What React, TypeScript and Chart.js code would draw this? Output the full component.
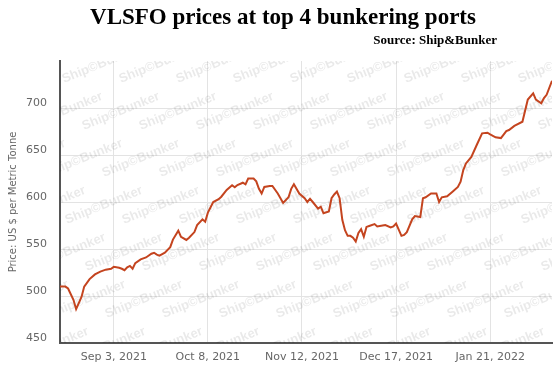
import React, { useEffect, useRef } from 'react';
import { Chart, registerables } from 'chart.js';

Chart.register(...registerables);

const TITLE = 'VLSFO prices at top 4 bunkering ports';
const SOURCE = 'Source: Ship&Bunker';
const Y_TITLE = 'Price: US $ per Metric Tonne';
const WATERMARK = 'Ship\u00A9Bunker';

const dates = [
  '2021-08-14', '2021-08-16', '2021-08-17', '2021-08-19', '2021-08-20', '2021-08-22', '2021-08-23',
  '2021-08-25', '2021-08-27', '2021-08-29', '2021-08-31', '2021-09-02', '2021-09-03', '2021-09-05',
  '2021-09-06', '2021-09-07', '2021-09-08', '2021-09-09', '2021-09-10', '2021-09-11', '2021-09-13',
  '2021-09-15', '2021-09-17', '2021-09-18', '2021-09-19', '2021-09-20', '2021-09-22', '2021-09-24',
  '2021-09-25', '2021-09-27', '2021-09-28', '2021-09-30', '2021-10-01', '2021-10-03', '2021-10-04',
  '2021-10-06', '2021-10-07', '2021-10-08', '2021-10-10', '2021-10-12', '2021-10-13', '2021-10-15',
  '2021-10-17', '2021-10-18', '2021-10-19', '2021-10-21', '2021-10-22', '2021-10-23', '2021-10-25',
  '2021-10-26', '2021-10-27', '2021-10-28', '2021-10-29', '2021-10-31', '2021-11-01', '2021-11-03',
  '2021-11-05', '2021-11-07', '2021-11-08', '2021-11-09', '2021-11-11', '2021-11-13', '2021-11-14',
  '2021-11-15', '2021-11-16', '2021-11-18', '2021-11-19', '2021-11-20', '2021-11-22', '2021-11-23',
  '2021-11-24', '2021-11-25', '2021-11-26', '2021-11-27', '2021-11-28', '2021-11-29', '2021-11-30',
  '2021-12-01', '2021-12-02', '2021-12-03', '2021-12-04', '2021-12-05', '2021-12-06', '2021-12-07',
  '2021-12-09', '2021-12-10', '2021-12-12', '2021-12-13', '2021-12-15', '2021-12-16', '2021-12-17',
  '2021-12-19', '2021-12-20', '2021-12-21', '2021-12-23', '2021-12-24', '2021-12-26', '2021-12-27',
  '2021-12-28', '2021-12-30', '2022-01-01', '2022-01-02', '2022-01-03', '2022-01-05', '2022-01-07',
  '2022-01-09', '2022-01-10', '2022-01-11', '2022-01-12', '2022-01-14', '2022-01-16', '2022-01-18',
  '2022-01-20', '2022-01-21', '2022-01-23', '2022-01-25', '2022-01-27', '2022-01-28', '2022-01-30',
  '2022-02-02', '2022-02-04', '2022-02-06', '2022-02-07', '2022-02-09', '2022-02-10', '2022-02-11',
  '2022-02-13',
];

const prices = [
  510, 510, 508, 496, 486, 499, 510,
  518, 523, 526, 528, 529, 531, 530,
  529, 527.5, 530.5, 532, 529, 535, 539,
  541, 545, 546, 544, 543, 546, 552,
  560, 569.5, 563, 559.6, 562, 568, 575.5,
  581.6, 579, 588.7, 600, 603, 605.6, 612.8,
  617.8, 615.6, 618, 620.5, 618.8, 625, 625,
  622, 614, 609, 616, 617, 617, 609,
  599, 605, 614, 619, 609, 604, 600,
  603.5, 600, 593, 595, 588, 590, 604,
  608, 611, 604, 581, 570, 564, 564,
  562, 558, 567, 571, 563, 573.5, 574.5,
  576.5, 574, 575, 575.5, 573, 574, 577,
  564, 565, 568, 581.6, 585, 584, 604,
  605, 609, 609, 600, 605, 606, 611,
  616, 621.6, 634, 641, 648, 660.6, 673,
  673.7, 672, 668.8, 668, 675.5, 676.6, 681,
  685.4, 709, 715.6, 709, 705, 710.6, 714,
  729,
];

const xTickDates = ['2021-09-03', '2021-10-08', '2021-11-12', '2021-12-17', '2022-01-21'];
const yTickValues = [450, 500, 550, 600, 650, 700];
const Y_MIN = 450;
const Y_MAX = 750;
const MONTHS = ['Jan', 'Feb', 'Mar', 'Apr', 'May', 'Jun', 'Jul', 'Aug', 'Sep', 'Oct', 'Nov', 'Dec'];

const DAY = 86400000;
const dayOf = (s: string) => {
  const [y, m, d] = s.split('-').map(Number);
  return Date.UTC(y, m - 1, d) / DAY;
};
const fmtDay = (v: number) => {
  const dt = new Date(Math.round(v) * DAY);
  return `${MONTHS[dt.getUTCMonth()]} ${dt.getUTCDate()}, ${dt.getUTCFullYear()}`;
};

const LABEL_FONT = '"DejaVu Sans", Verdana, sans-serif';

const watermarkPlugin = {
  id: 'watermark',
  beforeDatasetsDraw(chart: any) {
    const { ctx, chartArea: a } = chart;
    ctx.save();
    ctx.beginPath();
    ctx.rect(a.left, a.top, a.right - a.left, a.bottom - a.top);
    ctx.clip();
    ctx.font = 'bold 13px "Liberation Sans", Arial, sans-serif';
    ctx.fillStyle = 'rgba(0,0,0,0.085)';
    ctx.textBaseline = 'alphabetic';
    ctx.textAlign = 'left';
    for (let j = -3; j < 10; j++) {
      for (let i = -12; i < 12; i++) {
        const x = 292 + 57 * i + 20 * j;
        const y = 83 + 47 * j;
        ctx.save();
        ctx.translate(x, y);
        ctx.rotate((-22 * Math.PI) / 180);
        ctx.fillText(WATERMARK, 0, 0);
        ctx.restore();
      }
    }
    ctx.restore();
  },
};

export default function App() {
  const ref = useRef<HTMLCanvasElement | null>(null);

  useEffect(() => {
    if (!ref.current) return;
    const points = dates.map((d, i) => ({ x: dayOf(d), y: prices[i] }));
    const chart = new Chart(ref.current, {
      type: 'line',
      data: {
        datasets: [
          {
            data: points,
            borderColor: '#c4441f',
            borderWidth: 2,
            pointRadius: 0,
            tension: 0,
            fill: false,
          },
        ],
      },
      options: {
        animation: false,
        responsive: false,
        maintainAspectRatio: false,
        layout: { padding: { top: 61, right: 2, bottom: 0, left: 0 } },
        plugins: {
          legend: { display: false },
          tooltip: { enabled: false },
          title: { display: false },
        },
        scales: {
          x: {
            type: 'linear',
            min: dayOf(dates[0]),
            max: dayOf(dates[dates.length - 1]),
            afterBuildTicks: (scale: any) => {
              scale.ticks = xTickDates.map((d) => ({ value: dayOf(d) }));
            },
            afterFit: (scale: any) => {
              scale.height = 27;
            },
            ticks: {
              autoSkip: false,
              maxRotation: 0,
              padding: 8,
              color: '#666666',
              font: { family: LABEL_FONT, size: 11 },
              callback: (v: any) => fmtDay(Number(v)),
            },
            grid: { color: '#e3e3e3', lineWidth: 1, drawTicks: false },
            border: { display: true, color: '#555555', width: 2 },
          },
          y: {
            type: 'linear',
            min: Y_MIN,
            max: Y_MAX,
            afterBuildTicks: (scale: any) => {
              scale.ticks = yTickValues.map((v) => ({ value: v }));
            },
            afterFit: (scale: any) => {
              scale.width = 60;
            },
            ticks: {
              padding: 13,
              labelOffset: -5,
              color: '#666666',
              font: { family: LABEL_FONT, size: 11 },
              callback: (v: any) => String(v),
            },
            grid: { color: '#e3e3e3', lineWidth: 1, drawTicks: false },
            border: { display: true, color: '#555555', width: 2 },
            title: {
              display: true,
              text: Y_TITLE,
              color: '#666666',
              font: { family: LABEL_FONT, size: 10, weight: 'normal' },
              padding: { top: 7, bottom: 0 },
            },
          },
        },
      } as any,
      plugins: [watermarkPlugin],
    });
    return () => chart.destroy();
  }, []);

  return (
    <div style={{ position: 'absolute', left: 0, top: 0, width: 554, height: 370, background: '#fff' }}>
      <canvas ref={ref} width={554} height={370} style={{ position: 'absolute', left: 0, top: 0, display: 'block' }} />
      <div
        style={{
          position: 'absolute',
          left: 0,
          top: 3,
          width: 566,
          textAlign: 'center',
          fontFamily: '"Liberation Serif", "Times New Roman", serif',
          fontWeight: 'bold',
          fontSize: 23,
          lineHeight: '28px',
          color: '#000',
          whiteSpace: 'nowrap',
        }}
      >
        {TITLE}
      </div>
      <div
        style={{
          position: 'absolute',
          left: 0,
          top: 32,
          width: 497,
          textAlign: 'right',
          fontFamily: '"Liberation Serif", "Times New Roman", serif',
          fontWeight: 'bold',
          fontSize: 13,
          lineHeight: '16px',
          color: '#000',
          whiteSpace: 'nowrap',
        }}
      >
        {SOURCE}
      </div>
    </div>
  );
}
